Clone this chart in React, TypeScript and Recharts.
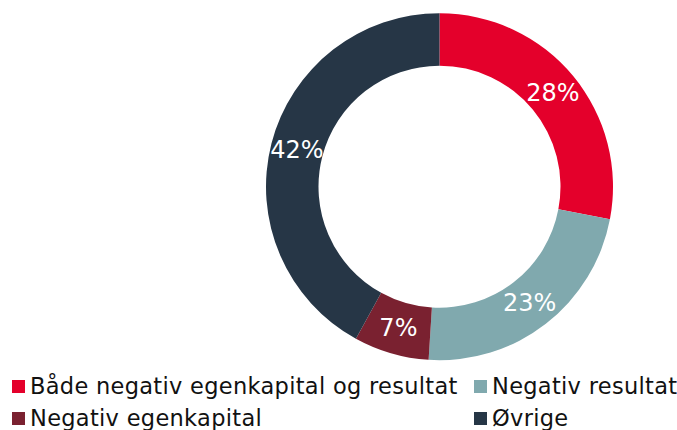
import React from 'react';
import { PieChart, Pie, Cell, Legend } from 'recharts';

const categories = ['Både negativ egenkapital og resultat', 'Negativ resultat', 'Negativ egenkapital', 'Øvrige'];
const shares = [28, 23, 7, 42];
const colors = ['#e4002b', '#80a9ae', '#7a2130', '#263646'];

const data = categories.map((name, i) => ({ name, value: shares[i] }));

const RADIAN = Math.PI / 180;

const renderLabel = (props: any) => {
    const { cx, cy, midAngle, innerRadius, outerRadius, value } = props;
    const r = (innerRadius + outerRadius) / 2;
    const x = cx + r * Math.cos(-midAngle * RADIAN);
    const y = cy + r * Math.sin(-midAngle * RADIAN);
    return (
        <text x={x} y={y} fill='#fff' textAnchor='middle' dominantBaseline='central' fontSize={24} fontFamily='DejaVu Sans'>
            {value}%
        </text>
    );
};

const LegendBox = () => (
    <div
        style={{
            display: 'grid',
            gridTemplateColumns: '462px auto',
            paddingLeft: 12,
            fontFamily: 'DejaVu Sans',
            fontSize: 22.5,
            letterSpacing: 0.3,
            color: '#111',
        }}
    >
        {categories.map((name, i) => (
            <div key={name} style={{ display: 'flex', alignItems: 'center', height: 32, whiteSpace: 'nowrap' }}>
                <span style={{ width: 13, height: 13, background: colors[i], marginRight: 5, flex: 'none' }} />
                {name}
            </div>
        ))}
    </div>
);

const App = () => {
    return (
        <div style={{ position: 'absolute', left: 0, top: 0, width: 677, height: 430 }}>
            <PieChart width={677} height={430} margin={{ top: 0, right: 0, bottom: 0, left: 0 }}>
                <Pie
                    data={data}
                    dataKey='value'
                    nameKey='name'
                    cx={439.5}
                    cy={186.7}
                    innerRadius={121}
                    outerRadius={173.5}
                    startAngle={90}
                    endAngle={-270}
                    stroke='none'
                    label={renderLabel}
                    labelLine={false}
                    isAnimationActive={false}
                >
                    {data.map((d, i) => (
                        <Cell key={d.name} fill={colors[i]} />
                    ))}
                </Pie>
                <Legend content={<LegendBox />} wrapperStyle={{ top: 370, left: 0, width: 677 }} />
            </PieChart>
        </div>
    );
};

export default App;
